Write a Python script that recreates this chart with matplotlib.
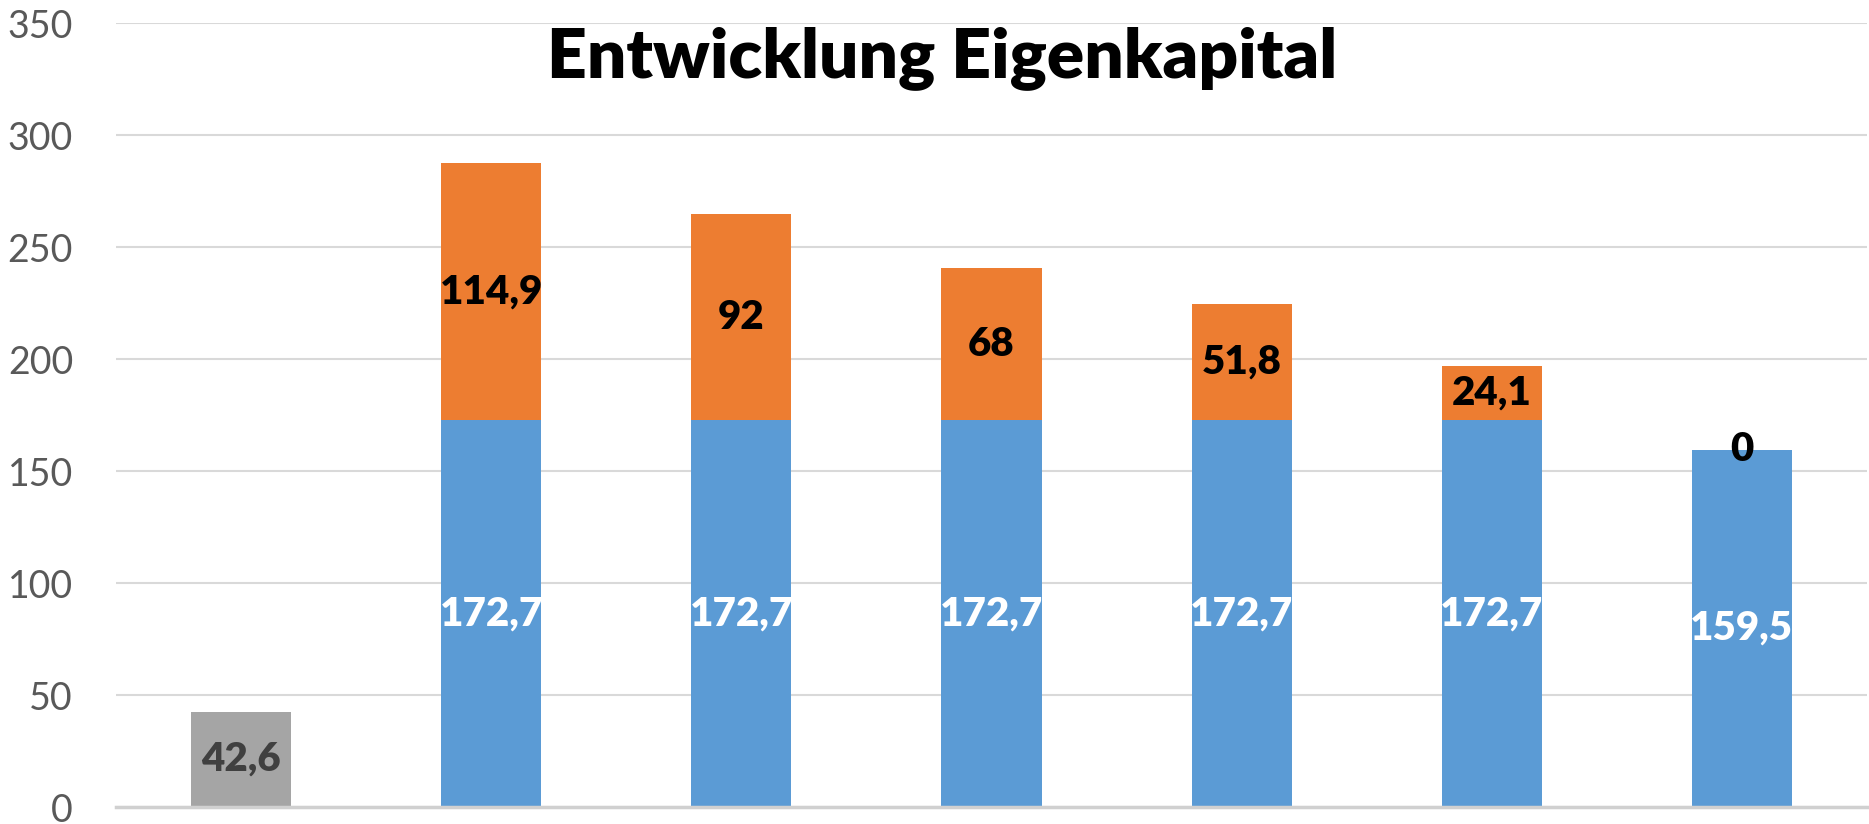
import matplotlib
matplotlib.use("Agg")
import matplotlib.pyplot as plt
import numpy as np

plt.rcParams['font.family'] = ['Lato', 'DejaVu Sans']

# data
categories = ["", "", "", "", "", "", ""]
start_value = [42.6, np.nan, np.nan, np.nan, np.nan, np.nan, np.nan]
base_value = [np.nan, 172.7, 172.7, 172.7, 172.7, 172.7, 159.5]
extra_value = [np.nan, 114.9, 92, 68, 51.8, 24.1, 0]
y_ticks = [0, 50, 100, 150, 200, 250, 300, 350]

def de_fmt(v):
	if np.isnan(v):
		return ""
	s = ("%.1f" % v).rstrip("0").rstrip(".")
	return s.replace(".", ",")

fig = plt.figure(figsize=(18.69, 8.24), dpi=100)
ax = fig.add_axes([0.0621, 0.0206, 0.9368, 0.9509])

x = np.arange(len(categories))
w = 0.4
b_gray = ax.bar(x, np.nan_to_num(start_value), w, color="#A5A5A5", zorder=3)
b_blue = ax.bar(x, np.nan_to_num(base_value), w, color="#5B9BD5", zorder=3)
b_orange = ax.bar(x, np.nan_to_num(extra_value), w, bottom=np.nan_to_num(base_value),
	color="#ED7D31", zorder=3)

lbl = dict(label_type="center", fontsize=29, fontweight="heavy")
ax.bar_label(b_gray, labels=[de_fmt(v) for v in start_value], color="#404040", **lbl)
ax.bar_label(b_blue, labels=[de_fmt(v) for v in base_value], color="white", **lbl)
ax.bar_label(b_orange, labels=[de_fmt(v) for v in extra_value], color="black", **lbl)

ax.set_xlim(-0.5, len(categories) - 0.5)
ax.set_ylim(0, 350)
ax.set_yticks(y_ticks)
ax.set_xticks([])
ax.tick_params(axis="y", length=0, pad=31, labelsize=27, labelcolor="#595959")
ax.grid(axis="y", color="#D9D9D9", linewidth=1.5, zorder=0)
for s in ["top", "right", "left"]:
	ax.spines[s].set_visible(False)
ax.spines["bottom"].set_color("#D0D0D0")
ax.spines["bottom"].set_linewidth(2.5)
ax.spines["bottom"].set_zorder(4)

fig.text(0.504, 0.93, "Entwicklung Eigenkapital", ha="center", va="center",
	fontsize=50, fontweight="heavy", color="black")

fig.savefig("out.png", dpi=100)
